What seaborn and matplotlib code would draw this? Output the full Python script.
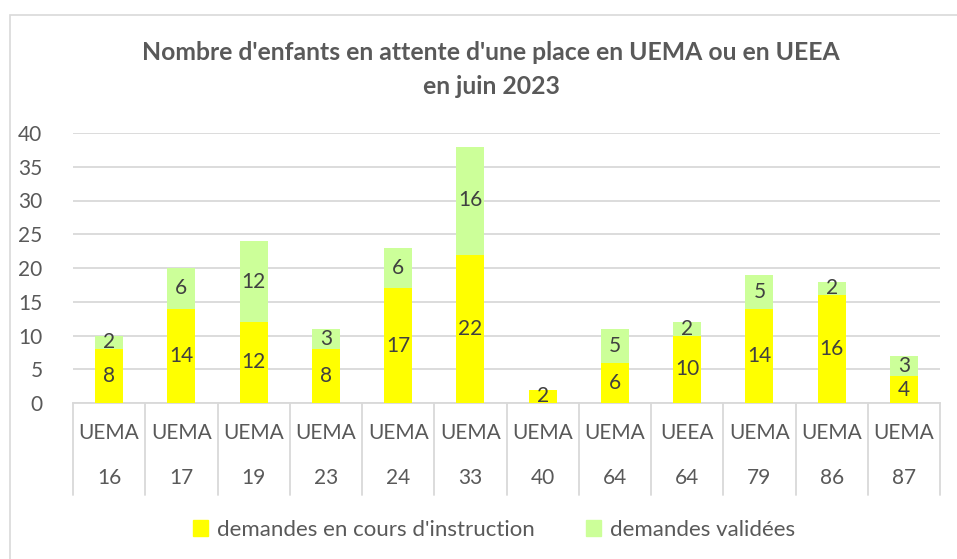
import numpy as np
import pandas as pd
import seaborn as sns
import matplotlib.pyplot as plt
from matplotlib.patches import Rectangle, Patch
from matplotlib.transforms import blended_transform_factory

# ============================
# DATA
# ============================
unit_types = ["UEMA", "UEMA", "UEMA", "UEMA", "UEMA", "UEMA",
              "UEMA", "UEMA", "UEEA", "UEMA", "UEMA", "UEMA"]
departments = ["16", "17", "19", "23", "24", "33", "40", "64", "64", "79", "86", "87"]
en_cours = [8, 14, 12, 8, 17, 22, 2, 6, 10, 14, 16, 4]
validees = [2, 6, 12, 3, 6, 16, 0, 5, 2, 5, 2, 3]

series_names = ["demandes en cours d'instruction", "demandes validées"]
yticks = [0, 5, 10, 15, 20, 25, 30, 35, 40]

YELLOW = "#FFFF00"
GREEN = "#CCFF99"
TEXT = "#595959"
GRID = "#D9D9D9"

df = pd.DataFrame({
    "cat": [f"{u}\n{d}" for u, d in zip(unit_types, departments)],
    "en_cours": en_cours,
    "validees": validees,
})
df["total"] = df["en_cours"] + df["validees"]

# ============================
# STYLE
# ============================
sns.set_style("white")
plt.rcParams["font.family"] = ["Lato", "DejaVu Sans"]

fig = plt.figure(figsize=(9.57, 5.59), dpi=100)
ax = fig.add_axes([73 / 957, 1 - 403 / 559, (940 - 73) / 957, (403 - 133) / 559])

# chart border
fig.patches.append(Rectangle((10 / 957, -0.1), 1.2, 1 - 15 / 559 + 0.1,
                             transform=fig.transFigure, fill=False,
                             edgecolor=GRID, linewidth=1.2, zorder=0))

# ============================
# BARS
# ============================
order = df["cat"].tolist()
sns.barplot(data=df, x="cat", y="total", order=order, color=GREEN,
            width=0.39, saturation=1, linewidth=0, ax=ax, zorder=3)
sns.barplot(data=df, x="cat", y="en_cours", order=order, color=YELLOW,
            width=0.39, saturation=1, linewidth=0, ax=ax, zorder=3)

# data labels
for i, row in df.iterrows():
    if row["en_cours"] > 0:
        ax.text(i, row["en_cours"] / 2, str(row["en_cours"]), ha="center",
                va="center", fontsize=15, color="#404040", zorder=4)
    if row["validees"] > 0:
        ax.text(i, row["en_cours"] + row["validees"] / 2, str(row["validees"]),
                ha="center", va="center", fontsize=15, color="#404040", zorder=4)

# ============================
# AXES
# ============================
ax.set_ylim(0, 40)
ax.set_xlim(-0.5, len(order) - 0.5)
ax.set_yticks(yticks)
ax.set_yticklabels([str(t) for t in yticks], fontsize=15, color=TEXT)
ax.tick_params(axis="y", length=0, pad=22)
ax.yaxis.grid(True, color=GRID, linewidth=1.3, zorder=0)
ax.set_axisbelow(True)
for s in ["top", "right", "left"]:
    ax.spines[s].set_visible(False)
ax.spines["bottom"].set_color(GRID)
ax.spines["bottom"].set_linewidth(1.3)
ax.set_xticks([])
ax.set_xlabel("")
ax.set_ylabel("")

# two-level category axis
trans = blended_transform_factory(ax.transData, ax.transAxes)
box_bottom = -(495 - 403) / (403 - 133)
for b in np.arange(-0.5, len(order), 1.0):
    ax.plot([b, b], [0, box_bottom], transform=trans, color=GRID,
            linewidth=1.3, clip_on=False)
for i, (u, d) in enumerate(zip(unit_types, departments)):
    ax.text(i, -(433 - 403) / 270, u, transform=trans, ha="center",
            va="center", fontsize=15, color=TEXT)
    ax.text(i, -(478 - 403) / 270, d, transform=trans, ha="center",
            va="center", fontsize=15, color=TEXT)

# ============================
# TITLE & LEGEND
# ============================
fig.text(491 / 957, 1 - 53 / 559,
         "Nombre d'enfants en attente d'une place en UEMA ou en UEEA",
         ha="center", va="center", fontsize=17.8, fontweight="bold", color=TEXT)
fig.text(491 / 957, 1 - 87 / 559, "en juin 2023",
         ha="center", va="center", fontsize=17.8, fontweight="bold", color=TEXT)

handles = [Patch(color=YELLOW, label=series_names[0]),
           Patch(color=GREEN, label=series_names[1])]
leg = fig.legend(handles=handles, loc="center", ncol=2,
                 bbox_to_anchor=(494 / 957, 1 - 530 / 559), frameon=False,
                 fontsize=16, handlelength=0.7, handleheight=0.7,
                 handletextpad=0.4, columnspacing=2.3)
for t in leg.get_texts():
    t.set_color(TEXT)

fig.savefig("out.png", dpi=100)
